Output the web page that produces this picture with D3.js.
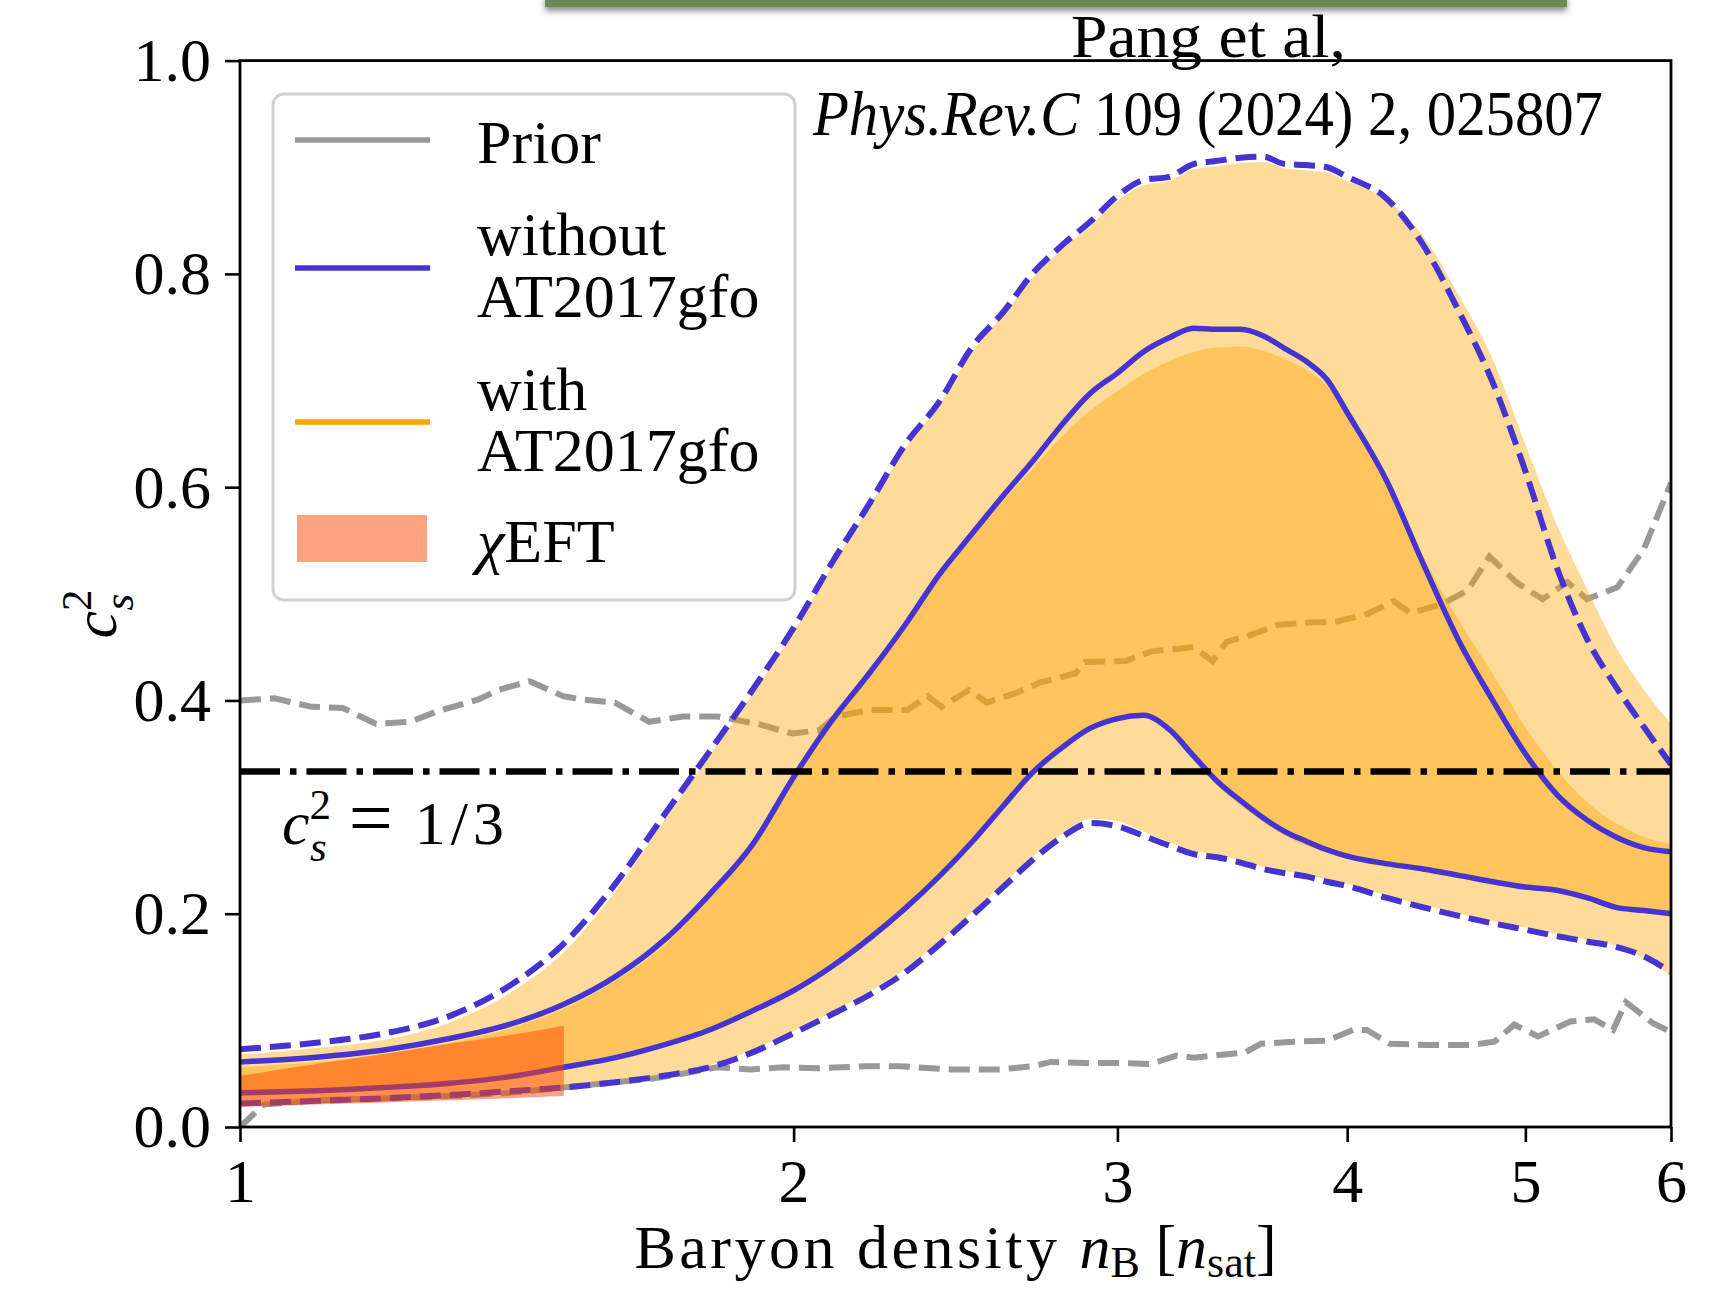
<!DOCTYPE html>
<html><head><meta charset="utf-8">
<script src="https://cdn.jsdelivr.net/npm/d3@7"></script>
<style>
body{margin:0;background:#fff;}
svg{display:block;}
text{font-family:"Liberation Serif","Times New Roman",serif;fill:#000;}
</style>
</head><body>
<svg id="chart" width="1727" height="1294"></svg>
<script>
// ---------------- DATA ----------------
const nGrid = [1.0,1.1,1.2,1.3,1.4,1.5,1.6,1.7,1.8,1.9,2.0,2.1,2.2,2.3,2.4,2.5,2.6,2.7,2.8,2.9,3.0,3.1,3.2,3.3,3.4,3.5,3.6,3.7,3.8,3.9,4.0,4.2,4.4,4.6,4.8,5.0,5.2,5.4,5.6,5.8,6.0];

// without AT2017gfo (blue lines)
const withoutUp95 = [0.073,0.079,0.088,0.104,0.132,0.172,0.228,0.292,0.352,0.410,0.468,0.530,0.585,0.640,0.680,0.731,0.764,0.801,0.827,0.849,0.873,0.888,0.891,0.903,0.906,0.909,0.910,0.903,0.902,0.900,0.891,0.871,0.827,0.765,0.698,0.615,0.525,0.458,0.413,0.375,0.340];
const withoutUp68 = [0.061,0.0655,0.0725,0.083,0.096,0.115,0.141,0.175,0.218,0.265,0.328,0.382,0.426,0.471,0.518,0.556,0.592,0.625,0.659,0.688,0.707,0.727,0.740,0.749,0.748,0.748,0.742,0.730,0.718,0.701,0.670,0.607,0.528,0.456,0.400,0.350,0.312,0.288,0.272,0.262,0.258];
const withoutLo68 = [0.032,0.034,0.037,0.041,0.047,0.056,0.065,0.077,0.091,0.109,0.128,0.151,0.177,0.205,0.235,0.267,0.301,0.333,0.356,0.374,0.383,0.386,0.373,0.348,0.324,0.306,0.290,0.277,0.268,0.260,0.254,0.247,0.242,0.236,0.230,0.225,0.222,0.215,0.206,0.203,0.200];
const withoutLo95 = [0.022,0.0245,0.027,0.030,0.0335,0.037,0.042,0.048,0.056,0.070,0.088,0.106,0.124,0.145,0.171,0.198,0.225,0.251,0.272,0.285,0.282,0.273,0.264,0.256,0.253,0.248,0.242,0.238,0.235,0.230,0.226,0.215,0.206,0.198,0.191,0.185,0.179,0.174,0.169,0.160,0.145];

// with AT2017gfo (orange bands)
const withUp95 = [0.068,0.074,0.082,0.098,0.125,0.164,0.221,0.287,0.348,0.406,0.464,0.527,0.582,0.636,0.677,0.727,0.761,0.797,0.823,0.845,0.868,0.883,0.887,0.898,0.901,0.904,0.905,0.899,0.897,0.895,0.887,0.870,0.835,0.780,0.720,0.640,0.565,0.505,0.450,0.410,0.378];
const withLo95 = [0.023,0.025,0.028,0.031,0.035,0.039,0.044,0.049,0.058,0.072,0.090,0.108,0.127,0.148,0.174,0.201,0.228,0.254,0.275,0.289,0.287,0.277,0.267,0.259,0.255,0.250,0.244,0.240,0.237,0.232,0.228,0.217,0.208,0.200,0.193,0.187,0.181,0.176,0.170,0.158,0.142];
const withUp68 = [0.056,0.061,0.068,0.079,0.092,0.111,0.137,0.170,0.214,0.263,0.327,0.381,0.425,0.470,0.515,0.552,0.587,0.618,0.648,0.672,0.690,0.706,0.718,0.727,0.731,0.732,0.728,0.720,0.710,0.695,0.668,0.610,0.535,0.475,0.425,0.375,0.335,0.305,0.285,0.272,0.265];
const withLo68 = [0.034,0.036,0.039,0.043,0.049,0.058,0.067,0.079,0.093,0.111,0.131,0.154,0.180,0.208,0.238,0.270,0.304,0.336,0.358,0.375,0.383,0.384,0.370,0.345,0.320,0.302,0.286,0.273,0.264,0.257,0.251,0.244,0.239,0.233,0.228,0.223,0.220,0.213,0.205,0.202,0.199];

// Prior (grey dashed)
const priorUpN = [1.0,1.044,1.094,1.137,1.186,1.238,1.281,1.348,1.383,1.437,1.499,1.532,1.599,1.669,1.742,1.817,1.912,1.997,2.065,2.109,2.202,2.306,2.366,2.407,2.492,2.547,2.643,2.724,2.845,2.88,3.03,3.13,3.30,3.38,3.44,3.54,3.67,3.82,3.95,4.10,4.24,4.33,4.50,4.65,4.78,4.95,5.11,5.27,5.40,5.61,5.80,6.0];
const priorUpC = [0.400,0.402,0.394,0.393,0.378,0.380,0.390,0.401,0.410,0.418,0.404,0.401,0.398,0.380,0.385,0.385,0.378,0.369,0.372,0.385,0.391,0.391,0.404,0.394,0.410,0.398,0.407,0.417,0.425,0.436,0.437,0.446,0.450,0.437,0.455,0.461,0.471,0.473,0.474,0.481,0.493,0.482,0.490,0.503,0.535,0.510,0.495,0.511,0.495,0.506,0.542,0.604];
const priorLoN = [1.0,1.03,1.1,1.2,1.3,1.4,1.5,1.6,1.67,1.74,1.817,1.895,1.976,2.06,2.19,2.285,2.433,2.59,2.70,2.76,2.88,3.0,3.127,3.23,3.30,3.52,3.59,3.74,3.90,4.03,4.10,4.22,4.42,4.67,4.81,4.93,5.08,5.29,5.45,5.58,5.67,5.87,6.0];
const priorLoC = [0.0,0.021,0.025,0.027,0.029,0.032,0.037,0.042,0.045,0.050,0.056,0.054,0.056,0.055,0.057,0.057,0.054,0.054,0.057,0.061,0.060,0.060,0.059,0.067,0.065,0.070,0.078,0.080,0.081,0.091,0.091,0.078,0.077,0.077,0.080,0.096,0.085,0.099,0.101,0.091,0.117,0.097,0.089];

// chiEFT band
const eftN  = [1.0,1.1,1.2,1.3,1.4,1.5];
const eftUp = [0.048,0.059,0.069,0.078,0.086,0.095];
const eftLo = [0.019,0.021,0.023,0.025,0.027,0.029];

const conformal = 1/3;
const xTicks = [1,2,3,4,5,6];
const yTicks = [0.0,0.2,0.4,0.6,0.8,1.0];
const legendLabels = [["Prior"],["without","AT2017gfo"],["with","AT2017gfo"],["\u03c7EFT"]];

// ---------------- STYLE ----------------
const BLUE = "#4634d0", GREY = "#999999", ORANGE = "#ffa500", EFT = "#ff4500";
const FS = 62;
const DASH = "21,9";

// ---------------- CHART ----------------
const svg = d3.select("#chart");
const L = 240, R = 1671, T = 60.6, B = 1127;
const x = d3.scaleLog().domain([1,6]).range([L,R]);
const y = d3.scaleLinear().domain([0,1]).range([B,T]);

const defs = svg.append("defs");
defs.append("clipPath").attr("id","plotclip").append("rect")
  .attr("x",L).attr("y",T).attr("width",R-L).attr("height",B-T);
const f = defs.append("filter").attr("id","shadow").attr("x","-10%").attr("y","-100%").attr("width","120%").attr("height","400%");
f.append("feDropShadow").attr("dx",0).attr("dy",4).attr("stdDeviation",3).attr("flood-color","#000").attr("flood-opacity",0.45);

svg.append("rect").attr("width",1727).attr("height",1294).attr("fill","#fff");

// green bar at top
svg.append("rect").attr("x",545).attr("y",-6).attr("width",1022).attr("height",13)
  .attr("fill","#6a8a57").attr("filter","url(#shadow)");

const plot = svg.append("g").attr("clip-path","url(#plotclip)");

const line = d3.line().x(d=>x(d[0])).y(d=>y(d[1])).curve(d3.curveMonotoneX);
const lineLin = d3.line().x(d=>x(d[0])).y(d=>y(d[1]));
const area = d3.area().x(d=>x(d[0])).y0(d=>y(d[1])).y1(d=>y(d[2])).curve(d3.curveMonotoneX);

// prior
[[priorUpN,priorUpC],[priorLoN,priorLoC]].forEach(([nn,cc])=>{
  plot.append("path").attr("d",lineLin(d3.zip(nn,cc)))
    .attr("fill","none").attr("stroke",GREY).attr("stroke-width",6).attr("stroke-dasharray",DASH);
});

// with AT2017gfo bands
plot.append("path").attr("d",area(d3.zip(nGrid,withLo95,withUp95)))
  .attr("fill",ORANGE).attr("fill-opacity",0.4);
plot.append("path").attr("d",area(d3.zip(nGrid,withLo68,withUp68)))
  .attr("fill",ORANGE).attr("fill-opacity",0.4);

// without AT2017gfo lines
[[withoutUp95,DASH,6],[withoutLo95,DASH,6],[withoutUp68,null,5.5],[withoutLo68,null,5.5]].forEach(([arr,dash,w])=>{
  const p = plot.append("path").attr("d",line(d3.zip(nGrid,arr)))
    .attr("fill","none").attr("stroke",BLUE).attr("stroke-width",w).attr("stroke-linejoin","round");
  if(dash) p.attr("stroke-dasharray",dash);
});

// chiEFT
plot.append("path").attr("d",area(d3.zip(eftN,eftLo,eftUp)))
  .attr("fill",EFT).attr("fill-opacity",0.5);

// conformal line
plot.append("line").attr("x1",x(1)).attr("x2",x(6)).attr("y1",y(conformal)).attr("y2",y(conformal))
  .attr("stroke","#000").attr("stroke-width",6.5).attr("stroke-dasharray","40,10,6.5,10");

// annotation c_s^2 = 1/3
const ann = svg.append("text").attr("x",282).attr("y",844).attr("font-size",FS);
ann.append("tspan").attr("font-style","italic").text("c");
ann.append("tspan").attr("font-size",43).attr("dy",-25).text("2");
ann.append("tspan").attr("font-size",43).attr("font-style","italic").attr("dx",-21).attr("dy",42).text("s");
ann.append("tspan").attr("dy",-17).attr("dx",22).attr("font-size",78).text("=");
ann.append("tspan").attr("dx",22).attr("letter-spacing",5).text("1/3");

// axes
const gx = svg.append("g").attr("transform",`translate(0,${B})`)
  .call(d3.axisBottom(x).tickValues(xTicks).tickFormat(d=>String(d)).tickSize(15).tickPadding(16));
const gy = svg.append("g").attr("transform",`translate(${L},0)`)
  .call(d3.axisLeft(y).tickValues(yTicks).tickFormat(d3.format(".1f")).tickSize(15).tickPadding(14));
[gx,gy].forEach(g=>{
  g.select(".domain").remove();
  g.selectAll(".tick line").attr("stroke","#000").attr("stroke-width",2.6);
  g.selectAll(".tick text").attr("font-size",FS).attr("font-family","'Liberation Serif',serif").attr("fill","#000");
});

// frame
svg.append("rect").attr("x",L).attr("y",T).attr("width",R-L).attr("height",B-T)
  .attr("fill","none").attr("stroke","#000").attr("stroke-width",2.8);

// x label
const xl = svg.append("text").attr("x",(L+R)/2).attr("y",1268).attr("text-anchor","middle").attr("font-size",FS);
xl.append("tspan").attr("letter-spacing",3.5).text("Baryon density ");
xl.append("tspan").attr("font-style","italic").text("n");
xl.append("tspan").attr("font-size",44).attr("dy",9).text("B");
xl.append("tspan").attr("dy",-9).text(" [");
xl.append("tspan").attr("font-style","italic").text("n");
xl.append("tspan").attr("font-size",44).attr("dy",9).text("sat");
xl.append("tspan").attr("dy",-9).text("]");

// y label
const yl = svg.append("text").attr("transform","translate(116,614) rotate(-90)").attr("text-anchor","middle").attr("font-size",FS);
yl.append("tspan").attr("font-style","italic").text("c");
yl.append("tspan").attr("font-size",43).attr("dy",-25).text("2");
yl.append("tspan").attr("font-size",43).attr("font-style","italic").attr("dx",-21).attr("dy",42).text("s");

// legend
const lg = svg.append("g");
lg.append("rect").attr("x",273).attr("y",94).attr("width",522).attr("height",506).attr("rx",11)
  .attr("fill","#fff").attr("fill-opacity",0.85).attr("stroke","#d0d0d0").attr("stroke-width",3);
const legendColors = [GREY, BLUE, ORANGE, EFT];
const legendLineY = [140, 268, 422, 538];
const legendBase = [[163],[255,317],[410,471],[562]];
legendLabels.forEach((lab,i)=>{
  if(i<3){
    lg.append("line").attr("x1",295).attr("x2",430).attr("y1",legendLineY[i]).attr("y2",legendLineY[i])
      .attr("stroke",legendColors[i]).attr("stroke-width",5.5);
  } else {
    lg.append("rect").attr("x",297).attr("y",515).attr("width",130).attr("height",47)
      .attr("fill",legendColors[i]).attr("fill-opacity",0.5);
  }
  lab.forEach((t,j)=>{
    const tx = lg.append("text").attr("x",477).attr("y",legendBase[i][j]).attr("font-size",FS);
    if(t.startsWith("\u03c7")){
      tx.append("tspan").attr("font-style","italic").text("\u03c7");
      tx.append("tspan").text(t.slice(1));
    } else tx.text(t);
  });
});

// citation
svg.append("text").attr("x",1071).attr("y",57).attr("font-size",62)
  .attr("textLength",275).attr("lengthAdjust","spacingAndGlyphs").text("Pang et al,");
const cit = svg.append("text").attr("x",813).attr("y",135).attr("font-size",63)
  .attr("textLength",790).attr("lengthAdjust","spacingAndGlyphs");
cit.append("tspan").attr("font-style","italic").text("Phys.Rev.C");
cit.append("tspan").text(" 109 (2024) 2, 025807");
</script>
</body></html>
